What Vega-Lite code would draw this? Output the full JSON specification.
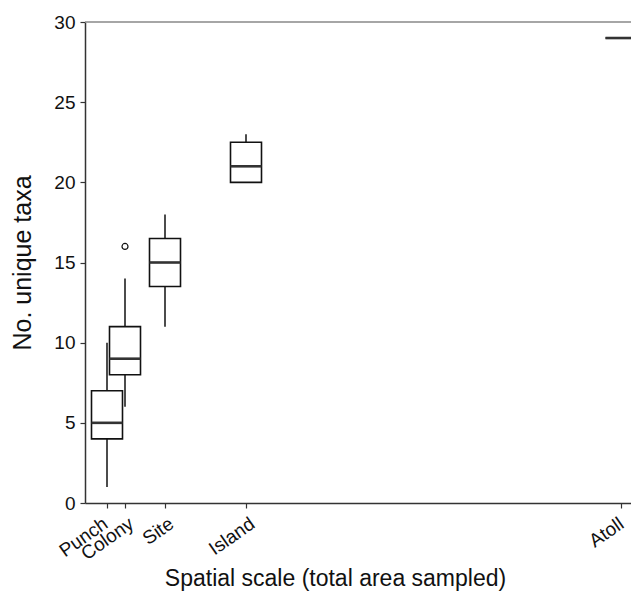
{
  "$schema": "https://vega.github.io/schema/vega-lite/v6.json",
  "width": 546,
  "height": 481,
  "autosize": {"type": "none"},
  "padding": {"left": 85, "top": 22, "right": 0, "bottom": 90},
  "background": "white",
  "config": {
    "view": {"stroke": null},
    "font": "Liberation Sans"
  },
  "datasets": {
    "boxes": [
      {"scale": "Punch", "x": 22, "lower": 1, "q1": 4, "median": 5, "q3": 7, "upper": 10},
      {"scale": "Colony", "x": 40, "lower": 6, "q1": 8, "median": 9, "q3": 11, "upper": 14},
      {"scale": "Site", "x": 80, "lower": 11, "q1": 13.5, "median": 15, "q3": 16.5, "upper": 18},
      {"scale": "Island", "x": 161, "lower": 20, "q1": 20, "median": 21, "q3": 22.5, "upper": 23},
      {"scale": "Atoll", "x": 536, "lower": 29, "q1": 29, "median": 29, "q3": 29, "upper": 29}
    ],
    "outliers": [
      {"scale": "Colony", "x": 40, "value": 16}
    ]
  },
  "layer": [
    {
      "data": {"name": "boxes"},
      "mark": {"type": "rule", "color": "#111111", "strokeWidth": 1.5},
      "encoding": {
        "x": {
          "field": "x", "type": "quantitative",
          "scale": {"domain": [0, 546], "nice": false, "zero": false, "padding": 0},
          "axis": {
            "values": [22, 40, 80, 161, 536],
            "labelExpr": "datum.value == 22 ? 'Punch' : datum.value == 40 ? 'Colony' : datum.value == 80 ? 'Site' : datum.value == 161 ? 'Island' : 'Atoll'",
            "labelAngle": -35,
            "labelAlign": "right",
            "labelBaseline": "top",
            "labelOverlap": false,
            "labelPadding": 6,
            "labelOffset": {"condition": [{"test": "datum.value == 22", "value": -7}, {"test": "datum.value == 536", "value": -5}], "value": 1},
            "labelFontSize": 19,
            "labelColor": "#111111",
            "labelFont": "Liberation Sans",
            "title": "Spatial scale (total area sampled)",
            "titleFont": "Liberation Sans",
            "titleFontSize": 23,
            "titleFontWeight": "normal",
            "titleColor": "#111111",
            "titlePadding": 4,
            "titleX": 250,
            "titleAlign": "center",
            "grid": false,
            "domainColor": "#333333",
            "domainWidth": 1.5,
            "tickColor": "#333333",
            "tickWidth": 1.2,
            "tickSize": 5
          }
        },
        "y": {
          "field": "lower", "type": "quantitative",
          "scale": {"domain": [0, 30], "nice": false, "padding": 0},
          "axis": {
            "values": [0, 5, 10, 15, 20, 25, 30],
            "title": "No. unique taxa",
            "titleFont": "Liberation Sans",
            "titleFontSize": 25,
            "titleFontWeight": "normal",
            "titleColor": "#111111",
            "titlePadding": 18,
            "labelPadding": 5,
            "labelFontSize": 19,
            "labelColor": "#111111",
            "labelFont": "Liberation Sans",
            "grid": false,
            "domainColor": "#333333",
            "domainWidth": 1.5,
            "tickColor": "#333333",
            "tickWidth": 1.2,
            "tickSize": 5
          }
        },
        "y2": {"field": "upper"}
      }
    },
    {
      "data": {"values": [{"top": 30}]},
      "mark": {"type": "rule", "color": "#888888", "strokeWidth": 1.5},
      "encoding": {"y": {"field": "top", "type": "quantitative"}}
    },
    {
      "data": {"name": "boxes"},
      "mark": {"type": "bar", "size": 31, "fill": "white", "stroke": "#111111", "strokeWidth": 1.6, "orient": "vertical"},
      "encoding": {
        "x": {"field": "x", "type": "quantitative"},
        "y": {"field": "q1", "type": "quantitative"},
        "y2": {"field": "q3"}
      }
    },
    {
      "data": {"name": "boxes"},
      "mark": {"type": "tick", "orient": "horizontal", "size": 31, "thickness": 2.6, "color": "#333333", "opacity": 1},
      "encoding": {
        "x": {"field": "x", "type": "quantitative"},
        "y": {"field": "median", "type": "quantitative"}
      }
    },
    {
      "data": {"name": "outliers"},
      "mark": {"type": "point", "shape": "circle", "filled": false, "size": 36, "color": "#111111", "strokeWidth": 1.2, "opacity": 1},
      "encoding": {
        "x": {"field": "x", "type": "quantitative"},
        "y": {"field": "value", "type": "quantitative"}
      }
    }
  ]
}
